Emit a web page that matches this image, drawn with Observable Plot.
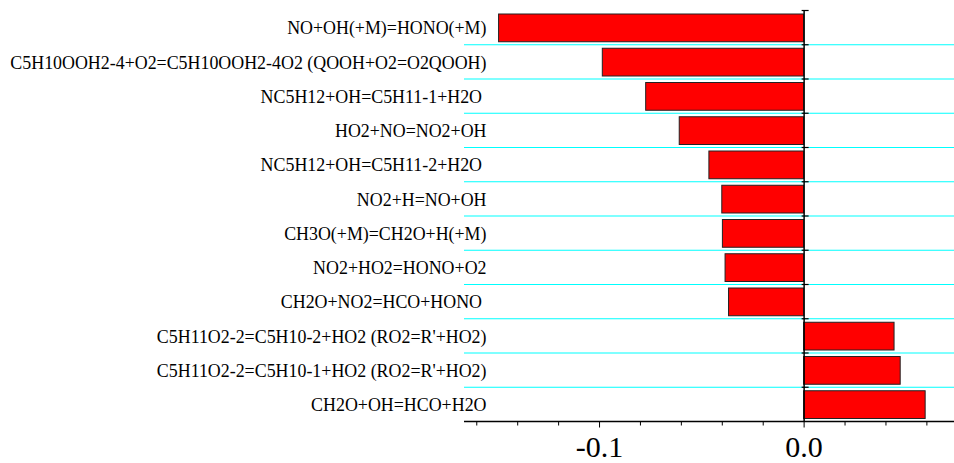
<!DOCTYPE html>
<html>
<head>
<meta charset="utf-8">
<script src="https://cdn.jsdelivr.net/npm/d3@7"></script>
<script src="https://cdn.jsdelivr.net/npm/@observablehq/plot@0.6"></script>
<style>
  html, body { margin: 0; padding: 0; background: #fff; }
  #chart svg { display: block; }
  #chart svg text { font-family: "Liberation Serif", "Times New Roman", serif; font-variant: normal; }
</style>
</head>
<body>
<div id="chart"></div>
<script>
// Reaction labels (top to bottom)
const reactions = [
  "NO+OH(+M)=HONO(+M)",
  "C5H10OOH2-4+O2=C5H10OOH2-4O2 (QOOH+O2=O2QOOH)",
  "NC5H12+OH=C5H11-1+H2O\u00a0",
  "HO2+NO=NO2+OH",
  "NC5H12+OH=C5H11-2+H2O\u00a0",
  "NO2+H=NO+OH",
  "CH3O(+M)=CH2O+H(+M)",
  "NO2+HO2=HONO+O2",
  "CH2O+NO2=HCO+HONO\u00a0",
  "C5H11O2-2=C5H10-2+HO2 (RO2=R'+HO2)",
  "C5H11O2-2=C5H10-1+HO2 (RO2=R'+HO2)",
  "CH2O+OH=HCO+H2O"
];
// Sensitivity coefficients
const sensitivity = [
  -0.1491, -0.0984, -0.0772, -0.0608, -0.0463, -0.0400,
  -0.0397, -0.0384, -0.0367, 0.0442, 0.0472, 0.0594
];
// Axis ticks
const majorTicks = [-0.1, 0.0];
const minorTicks = [-0.16, -0.14, -0.12, -0.08, -0.06, -0.04, -0.02, 0.02, 0.04, 0.06];
const xDomain = [-0.166, 0.0735];

const rows = reactions.map((name, i) => ({name, value: sensitivity[i], i}));
const boundaries = d3.range(reactions.length + 1);

const hline = {
  draw(context, size) {
    const r = Math.sqrt(size / Math.PI);
    context.moveTo(-r, 0);
    context.lineTo(r, 0);
  }
};

const serif = "'Liberation Serif', 'Times New Roman', serif";

const chart = Plot.plot({
  width: 954,
  height: 463,
  marginLeft: 464,
  marginRight: 0,
  marginTop: 10,
  marginBottom: 42,
  style: {fontFamily: serif, background: "#fff"},
  x: {domain: xDomain, label: null},
  y: {domain: [0, reactions.length], reverse: true, axis: null},
  marks: [
    // cyan separators between rows
    Plot.ruleY(boundaries.slice(1, -1), {stroke: "#00ffff", strokeWidth: 1.2}),
    // bars
    Plot.rectX(rows, {
      x1: 0, x2: "value",
      y1: "i", y2: d => d.i + 1,
      insetTop: 4, insetBottom: 2.5,
      fill: "#ff0000", stroke: "#222", strokeWidth: 1
    }),
    // zero line
    Plot.ruleX([0], {stroke: "#000", strokeWidth: 1.5}),
    // ticks on zero line at row boundaries
    Plot.dot(boundaries.slice(0, -1), {x: 0, y: d => d, symbol: hline, r: 3.5, dx: 1, stroke: "#000", strokeWidth: 1.2}),
    // bottom axis line
    Plot.ruleY([reactions.length], {stroke: "#000", strokeWidth: 1.5}),
    // minor ticks
    Plot.axisX({ticks: minorTicks, tickSize: 4.5, tickFormat: () => "", label: null, stroke: "#000"}),
    // major ticks + labels
    Plot.axisX({
      ticks: majorTicks, tickSize: 6.5, tickPadding: 8,
      tickFormat: d => d.toFixed(1), label: null,
      fontSize: 30, fontFamily: serif, fill: "#000", stroke: "#000"
    }),
    // reaction labels
    Plot.text(rows, {
      text: "name", y: d => d.i + 0.5,
      frameAnchor: "left", dx: 22, dy: 1, textAnchor: "end",
      fontSize: 17.9, fontFamily: serif, fill: "#000"
    })
  ]
});
document.getElementById("chart").appendChild(chart);
</script>
</body>
</html>
